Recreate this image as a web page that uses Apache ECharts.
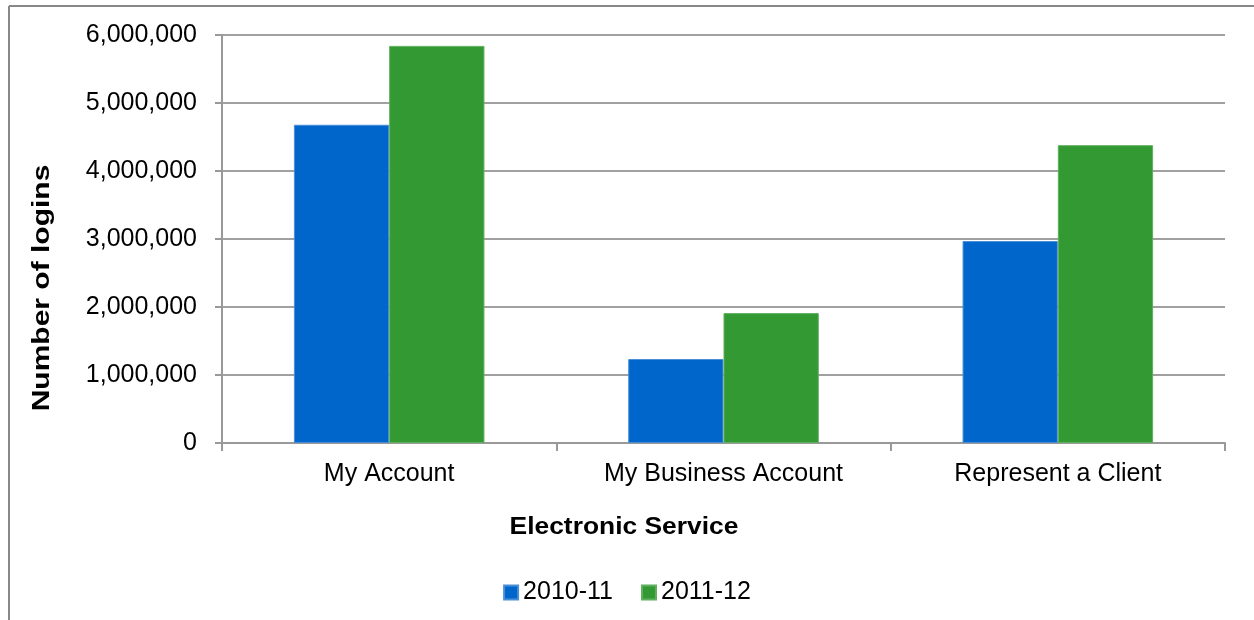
<!DOCTYPE html>
<html>
<head>
<meta charset="utf-8">
<script src="https://cdn.jsdelivr.net/npm/echarts@6/dist/echarts.min.js"></script>
<style>
  html, body { margin: 0; padding: 0; background: #fff; }
  #main { width: 1254px; height: 620px; }
</style>
</head>
<body>
<div id="main"></div>
<script>
const categories = ['My Account', 'My Business Account', 'Represent a Client']
const seriesNames = ['2010-11', '2011-12']
const values2010 = [4680000, 1235000, 2970000]
const values2011 = [5840000, 1910000, 4380000]
const yTicks = [0, 1000000, 2000000, 3000000, 4000000, 5000000, 6000000]

const font = 'Liberation Sans, Arial, sans-serif'
const chart = echarts.init(document.getElementById('main'), null, { renderer: 'canvas' })

const fmt = v => v.toString().replace(/\B(?=(\d{3})+(?!\d))/g, ',')

chart.setOption({
  animation: false,
  backgroundColor: '#fff',
  textStyle: { fontFamily: font },
  grid: { left: 222, right: 29, top: 35, bottom: 177, containLabel: false },
  legend: {
    data: seriesNames,
    left: 'center',
    top: 575,
    itemWidth: 14,
    itemHeight: 14,
    itemGap: 28,
    icon: 'rect',
    textStyle: { fontSize: 25, color: '#000', fontFamily: font }
  },
  xAxis: {
    type: 'category',
    data: categories,
    axisLine: { lineStyle: { color: '#999', width: 2 } },
    axisTick: { show: true, length: 8, lineStyle: { color: '#999', width: 2 } },
    axisLabel: { fontSize: 25, color: '#000', margin: 19, fontFamily: font }
  },
  yAxis: {
    type: 'value',
    min: yTicks[0],
    max: yTicks[yTicks.length - 1],
    interval: 1000000,
    axisLine: { show: true, lineStyle: { color: '#999', width: 2 } },
    axisTick: { show: true, length: 7, lineStyle: { color: '#999', width: 2 } },
    splitLine: { lineStyle: { color: '#a0a0a0', width: 2 } },
    axisLabel: { fontSize: 25, color: '#000', margin: 25, fontFamily: font, formatter: fmt }
  },
  graphic: [
    { type: 'line', shape: { x1: 9, y1: 6, x2: 9, y2: 620 }, style: { stroke: '#888', lineWidth: 2 } },
    { type: 'line', shape: { x1: 9, y1: 6, x2: 1254, y2: 6 }, style: { stroke: '#888', lineWidth: 2 } },
    {
      type: 'text', x: 42, y: 288, rotation: Math.PI / 2, scaleX: 1.25,
      style: { text: 'Number of logins', font: 'bold 24px ' + font, fill: '#000', textAlign: 'center', textVerticalAlign: 'middle' }
    },
    {
      type: 'text', x: 624, y: 527, scaleX: 1.1,
      style: { text: 'Electronic Service', font: 'bold 24px ' + font, fill: '#000', textAlign: 'center', textVerticalAlign: 'middle' }
    }
  ],
  series: [
    {
      name: seriesNames[0], type: 'bar', data: values2010,
      barGap: 0, barCategoryGap: '43%',
      itemStyle: { color: '#0066cc', borderColor: '#4a8fd6', borderWidth: 1 }
    },
    {
      name: seriesNames[1], type: 'bar', data: values2011,
      barGap: 0, barCategoryGap: '43%',
      itemStyle: { color: '#339933', borderColor: '#5fb05f', borderWidth: 1 }
    }
  ]
})
</script>
</body>
</html>
